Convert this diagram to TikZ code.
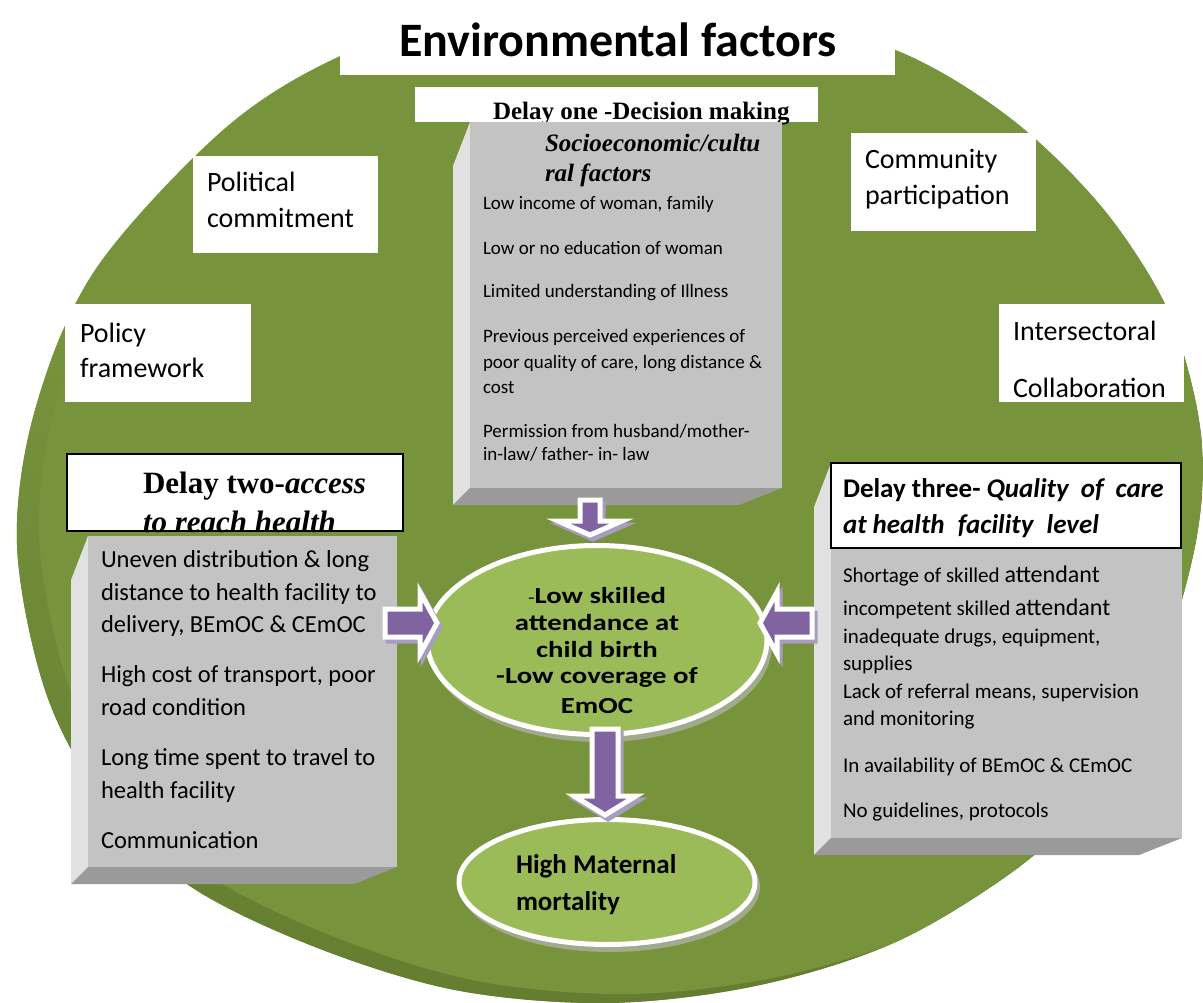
\documentclass[tikz,border=0pt]{standalone}
\usepackage{fontspec}
\usepackage{graphicx}
\setmainfont{Carlito}
\newfontfamily\timesface{Liberation Serif}
\usetikzlibrary{shapes.geometric,calc}

\definecolor{envgreen}{HTML}{77933C}
\definecolor{rimlight}{HTML}{88A64B}
\definecolor{rimdark}{HTML}{647D30}
\definecolor{ovalfill}{HTML}{9BBB59}
\definecolor{ovalshadow}{HTML}{A2AA8E}
\definecolor{arrowfill}{HTML}{8064A2}
\definecolor{arrowshade}{HTML}{A89CC0}
\definecolor{facegray}{HTML}{C3C3C3}
\definecolor{sidegray}{HTML}{E1E1E1}
\definecolor{basegray}{HTML}{9A9A9A}

\tikzset{
  txt/.style={anchor=base west, inner sep=0pt, outer sep=0pt},
  ctxt/.style={anchor=base, inner sep=0pt, outer sep=0pt},
  blockarrow/.style={fill=arrowfill, draw=white, line width=5pt, line join=miter},
  arrowshadow/.style={fill=arrowshade, draw=arrowshade, line width=5pt, line join=miter},
  oval/.style={ellipse, draw=white, line width=5pt, fill=ovalfill, inner sep=0pt},
  labelbox/.style={fill=white, draw=none},
  headbox/.style={fill=white, draw=black, line width=1.4pt},
}

% outline of the environment disc
\newcommand\envblob[1]{\path[#1] plot[smooth cycle, tension=0.55] coordinates {(615,0) (760,14) (900,52) (1010,118) (1100,205) (1163,300) (1193,390) (1203,470) (1192,560) (1155,680) (1095,785) (1028,860) (900,940) (760,985) (609,1003) (455,990) (310,945) (184,882) (100,795) (45,690) (17,545) (35,410) (95,270) (223,130) (338,57) (470,14)};}

% grey box with a light left side and a dark base
\newcommand\bevelbox[5]{%
  \fill[sidegray] (#2-17,#3+44) -- (#2,#3) -- (#2,#5) -- (#2-17,#5+17) -- cycle;
  \fill[basegray] (#2-17,#5+17) -- (#2,#5) -- (#4,#5) -- (#4-43,#5+17) -- cycle;
  \fill[facegray] (#2,#3) rectangle (#4,#5);
  \coordinate (#1) at (#2,#3);
}

% purple block arrow with its soft shadow
\newcommand\purplearrow[1]{%
  \begin{scope}[shift={(3,4)}]\path[arrowshadow] #1;\end{scope}
  \path[blockarrow] #1;
}

\newcommand\sz[1]{\fontsize{#1}{#1}\selectfont}

\begin{document}
\begin{tikzpicture}[x=1pt,y=-1pt]
\useasboundingbox (0,0) rectangle (1203,1003);
\fill[white] (0,0) rectangle (1203,1003);
\clip (0,0) rectangle (1203,1003);

% ---------- environment disc with its lit rim ----------
\envblob{fill=envgreen}
\begin{scope}
  \envblob{clip}
  \shade[top color=envgreen, middle color=rimlight, bottom color=rimdark] (0,330) rectangle (1203,1003);
  \begin{scope}[shift={(22,-9)}]
    \envblob{fill=envgreen}
  \end{scope}
\end{scope}

% ---------- title ----------
\fill[labelbox] (340,0) rectangle (895,75);
\node[ctxt, font=\sz{48}\bfseries] (title) at (618,57) {Environmental factors};

% ---------- surrounding factors ----------
\fill[labelbox] (193,156) rectangle (378,253);
\node[txt, font=\sz{28}] (pol1) at (207,192) {Political};
\node[txt, font=\sz{28}] (pol2) at (207,228) {commitment};

\fill[labelbox] (65,304) rectangle (251,402);
\node[txt, font=\sz{28}] (pf1) at (80,342) {Policy};
\node[txt, font=\sz{28}] (pf2) at (80,377) {framework};

\fill[labelbox] (851,133) rectangle (1036,231);
\node[txt, font=\sz{28}] (cp1) at (865,169) {Community};
\node[txt, font=\sz{28}] (cp2) at (865,205) {participation};

\fill[labelbox] (999,304) rectangle (1184,402);
\node[txt, font=\sz{28}] (ic1) at (1013,341) {Intersectoral};
\node[txt, font=\sz{28}] (ic2) at (1013,397) {Collaboration};

% ---------- delay one ----------
\fill[labelbox] (415,87) rectangle (818,122);
\node[txt, font=\timesface\sz{25}\bfseries] (d1head) at (493,120) {Delay one -Decision making};
\bevelbox{d1box}{470}{122}{782}{488}
\node[txt, font=\timesface\sz{25}\bfseries\itshape] (d1s1) at (545,152) {Socioeconomic/cultu};
\node[txt, font=\timesface\sz{25}\bfseries\itshape] (d1s2) at (545,182) {ral factors};
\node[txt, font=\sz{19}] (d1a) at (483,210) {Low income of woman, family};
\node[txt, font=\sz{19}] (d1b) at (483,255) {Low or no education of woman};
\node[txt, font=\sz{19}] (d1c) at (483,298) {Limited understanding of Illness};
\node[txt, font=\sz{19}] (d1d) at (483,342) {Previous perceived experiences of};
\node[txt, font=\sz{19}] (d1e) at (483,368) {poor quality of care, long distance \&};
\node[txt, font=\sz{19}] (d1f) at (483,393) {cost};
\node[txt, font=\sz{19}] (d1g) at (483,437) {Permission from husband/mother-};
\node[txt, font=\sz{19}] (d1h) at (483,460) {in-law/ father- in- law};

% ---------- delay two ----------
\draw[headbox] (67,454) rectangle (403,531);
\node[txt, font=\timesface\sz{31}\bfseries] (d2h1) at (143,493) {Delay two-\textit{access}};
\node[txt, font=\timesface\sz{31}\bfseries\itshape] (d2h2) at (143,532) {to reach health};
\bevelbox{d2box}{88}{536}{397}{867}
\node[txt, font=\sz{24.5}] (d2a) at (101,567) {Uneven distribution \& long};
\node[txt, font=\sz{24.5}] (d2b) at (101,600) {distance to health facility to};
\node[txt, font=\sz{24.5}] (d2c) at (101,632) {delivery, BEmOC \& CEmOC};
\node[txt, font=\sz{24.5}] (d2d) at (101,682) {High cost of transport, poor};
\node[txt, font=\sz{24.5}] (d2e) at (101,715) {road condition};
\node[txt, font=\sz{24.5}] (d2f) at (101,765) {Long time spent to travel to};
\node[txt, font=\sz{24.5}] (d2g) at (101,798) {health facility};
\node[txt, font=\sz{24.5}] (d2h) at (101,848) {Communication};

% ---------- delay three ----------
\bevelbox{d3box}{831}{463}{1182}{838}
\draw[headbox] (831,463) rectangle (1181,548);
\node[txt, font=\sz{27}\bfseries] (d3h1) at (843,497) {Delay three- \textit{Quality\hspace{6pt} of\hspace{6pt} care}};
\node[txt, font=\sz{27}\bfseries\itshape] (d3h2) at (843,533) {at health\hspace{7pt} facility\hspace{7pt} level};
\node[txt, font=\sz{21}] (d3a) at (843,582) {Shortage of skilled {\sz{24}attendant}};
\node[txt, font=\sz{21}] (d3b) at (843,615) {incompetent skilled {\sz{24}attendant}};
\node[txt, font=\sz{21}] (d3c) at (843,643) {inadequate drugs, equipment,};
\node[txt, font=\sz{21}] (d3d) at (843,670) {supplies};
\node[txt, font=\sz{21}] (d3e) at (843,698) {Lack of referral means, supervision};
\node[txt, font=\sz{21}] (d3f) at (843,725) {and monitoring};
\node[txt, font=\sz{21}] (d3g) at (843,772) {In availability of BEmOC \& CEmOC};
\node[txt, font=\sz{21}] (d3h) at (843,817) {No guidelines, protocols};

% ---------- central outcome ovals ----------
\fill[ovalshadow] (600,645) ellipse [x radius=172, y radius=97];
\node[oval, minimum width=340pt, minimum height=189pt] (lowskill) at (597,640) {};
\fill[ovalshadow] (610,887) ellipse [x radius=150, y radius=65];
\node[oval, minimum width=296pt, minimum height=125pt] (mmr) at (607,882) {};

\node[ctxt, font=\sz{23}\bfseries] (ls1) at (597,603) {\scalebox{1.25}[1]{{\mdseries\sz{17}-}Low skilled}};
\node[ctxt, font=\sz{23}\bfseries] (ls2) at (597,630) {\scalebox{1.25}[1]{attendance at}};
\node[ctxt, font=\sz{23}\bfseries] (ls3) at (597,657) {\scalebox{1.25}[1]{child birth}};
\node[ctxt, font=\sz{23}\bfseries] (ls4) at (597,683) {\scalebox{1.25}[1]{-Low coverage of}};
\node[ctxt, font=\sz{23}\bfseries] (ls5) at (597,713) {\scalebox{1.25}[1]{EmOC}};

\node[txt, font=\sz{27}\bfseries] (mm1) at (516,873) {High Maternal};
\node[txt, font=\sz{27}\bfseries] (mm2) at (516,910) {mortality};

% ---------- arrows into and out of the first oval ----------
\purplearrow{(580,500) -- (600,500) -- (600,521) -- (622,521) -- (590,535) -- (558,521) -- (580,521) -- cycle}
\purplearrow{(385,609) -- (420,609) -- (420,592) -- (437,623) -- (420,654) -- (420,637) -- (385,637) -- cycle}
\purplearrow{(812,609) -- (777,609) -- (777,592) -- (760,623) -- (777,654) -- (777,637) -- (812,637) -- cycle}
\purplearrow{(592,729) -- (618,729) -- (618,796) -- (636,796) -- (605,815) -- (574,796) -- (592,796) -- cycle}

\end{tikzpicture}
\end{document}
